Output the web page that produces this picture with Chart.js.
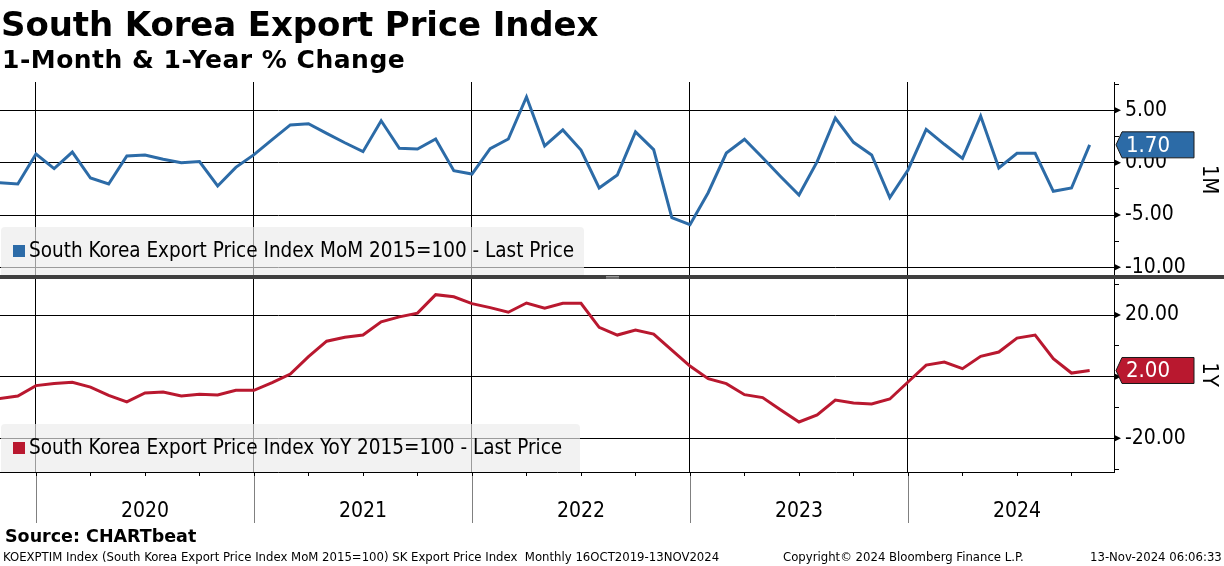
<!DOCTYPE html>
<html>
<head>
<meta charset="utf-8">
<script src="https://cdn.jsdelivr.net/npm/chart.js@4.4.1/dist/chart.umd.min.js"></script>
<style>
body { margin: 0; background: #fff; }
#wrap { position: relative; width: 1224px; height: 566px; overflow: hidden; color: #000;
	font-family: 'DejaVu Sans Condensed', 'DejaVu Sans', sans-serif; }
#chart { position: absolute; left: 0; top: 0; }
.txt { position: absolute; white-space: nowrap; line-height: 1; }
#titulo { left: 1px; top: 7px; font-size: 34px; font-weight: bold; font-family: 'DejaVu Sans', sans-serif; letter-spacing: -0.1px; }
#subtitulo { left: 2px; top: 47px; font-size: 25px; font-weight: bold; font-family: 'DejaVu Sans', sans-serif; letter-spacing: 0.5px; }
#fuente { left: 5px; top: 528px; font-size: 17.5px; font-weight: bold; font-family: 'DejaVu Sans', sans-serif; }
.pie { top: 550px; font-size: 13px; }
</style>
</head>
<body>
<div id="wrap">
	<canvas id="chart" width="1224" height="566"></canvas>
	<div class="txt" id="titulo">South Korea Export Price Index</div>
	<div class="txt" id="subtitulo">1-Month &amp; 1-Year % Change</div>
	<div class="txt" id="fuente">Source: CHARTbeat</div>
	<div class="txt pie" style="left:3px">KOEXPTIM Index (South Korea Export Price Index MoM 2015=100) SK Export Price Index&nbsp; Monthly 16OCT2019-13NOV2024</div>
	<div class="txt pie" style="left:783px">Copyright© 2024 Bloomberg Finance L.P.</div>
	<div class="txt pie" style="left:1090px">13-Nov-2024 06:06:33</div>
</div>
<script>
var months = ['2019-10', '2019-11', '2019-12',
	'2020-01', '2020-02', '2020-03', '2020-04', '2020-05', '2020-06', '2020-07', '2020-08', '2020-09', '2020-10', '2020-11', '2020-12',
	'2021-01', '2021-02', '2021-03', '2021-04', '2021-05', '2021-06', '2021-07', '2021-08', '2021-09', '2021-10', '2021-11', '2021-12',
	'2022-01', '2022-02', '2022-03', '2022-04', '2022-05', '2022-06', '2022-07', '2022-08', '2022-09', '2022-10', '2022-11', '2022-12',
	'2023-01', '2023-02', '2023-03', '2023-04', '2023-05', '2023-06', '2023-07', '2023-08', '2023-09', '2023-10', '2023-11', '2023-12',
	'2024-01', '2024-02', '2024-03', '2024-04', '2024-05', '2024-06', '2024-07', '2024-08', '2024-09', '2024-10'];

var mom = [-1.91, -2.04, 0.82,
	-0.57, 1.01, -1.47, -2.04, 0.63, 0.73, 0.32, 0.0, 0.1, -2.23, -0.45, 0.76,
	2.2, 3.6, 3.72, 2.8, 1.9, 1.05, 4.0, 1.37, 1.3, 2.26, -0.77, -1.09,
	1.33, 2.26, 6.27, 1.59, 3.12, 1.2, -2.42, -1.18, 2.93, 1.24, -5.26, -5.92,
	-2.87, 0.92, 2.23, 0.47, -1.34, -3.09, 0.1, 4.26, 1.94, 0.73, -3.34, -0.7,
	3.18, 1.75, 0.41, 4.45, -0.51, 0.89, 0.89, -2.74, -2.42, 1.70];

var yoy = [-7.1, -6.3, -2.9,
	-2.2, -1.85, -3.37, -6.06, -8.2, -5.3, -4.98, -6.3, -5.74, -5.95, -4.44, -4.44,
	-1.95, 0.86, 6.5, 11.5, 12.8, 13.5, 17.8, 19.4, 20.6, 26.6, 25.9, 23.7,
	22.4, 20.9, 23.9, 22.2, 23.8, 23.8, 16.0, 13.5, 15.1, 13.8, 8.6, 3.45,
	-0.65, -2.27, -5.84, -6.8, -10.8, -14.7, -12.4, -7.6, -8.55, -8.87, -7.25, -1.74,
	3.77, 4.75, 2.6, 6.58, 8.0, 12.5, 13.5, 5.83, 1.17, 2.0];

var years = [2020, 2021, 2022, 2023, 2024];
var momTicks = [-10, -7.5, -5, -2.5, 0, 2.5, 5, 7.5];
var yoyTicks = [-30, -20, -10, 0, 10, 20, 30];
var momLabel = 'South Korea Export Price Index MoM 2015=100 - Last Price';
var yoyLabel = 'South Korea Export Price Index YoY 2015=100 - Last Price';
var momAxis = '1M', yoyAxis = '1Y';

var azul = '#2c6ba7', rojo = '#b9182f';
var fuente = "'DejaVu Sans Condensed', 'DejaVu Sans', sans-serif";

// fin de mes -> año decimal
var aX = function (m) {
	var p = m.split('-');
	return Number(p[0]) + Number(p[1]) / 12;
};

var puntos = function (vals) {
	return vals.map(function (v, i) { return { x: aX(months[i]), y: v }; });
};

var cajaLeyenda = function (ctx, x, y, w, h, color, texto) {
	ctx.save();
	ctx.fillStyle = 'rgba(236,236,236,0.66)';
	ctx.beginPath();
	ctx.roundRect(x, y, w, h, [4, 4, 0, 0]);
	ctx.fill();
	ctx.fillStyle = color;
	ctx.fillRect(x + 12, y + 18, 12, 12);
	ctx.fillStyle = '#000';
	ctx.font = '20.5px ' + fuente;
	ctx.textBaseline = 'middle';
	ctx.fillText(texto, x + 28, y + 25);
	ctx.restore();
};

var etiqueta = function (ctx, x, y, texto, color) {
	ctx.save();
	ctx.fillStyle = color;
	ctx.strokeStyle = '#1a1a1a';
	ctx.lineWidth = 1;
	ctx.beginPath();
	ctx.moveTo(x + 1, y);
	ctx.lineTo(x + 7, y - 13);
	ctx.lineTo(x + 79, y - 13);
	ctx.lineTo(x + 79, y + 13);
	ctx.lineTo(x + 7, y + 13);
	ctx.closePath();
	ctx.fill();
	ctx.stroke();
	ctx.fillStyle = '#fff';
	ctx.font = '22px ' + fuente;
	ctx.textBaseline = 'middle';
	ctx.fillText(texto, x + 11, y + 1);
	ctx.restore();
};

var flechas = function (ctx, scale, valores) {
	ctx.fillStyle = '#000';
	valores.forEach(function (v) {
		var y = scale.getPixelForValue(v);
		ctx.beginPath();
		ctx.moveTo(scale.left, y - 3.5);
		ctx.lineTo(scale.left + 7, y);
		ctx.lineTo(scale.left, y + 3.5);
		ctx.closePath();
		ctx.fill();
	});
};

var extras = {
	id: 'extras',
	afterDatasetsDraw: function (chart) {
		var ctx = chart.ctx;
		var a = chart.chartArea;
		var yT = chart.scales.yTop;
		cajaLeyenda(ctx, 1, 227, 583, yT.bottom - 227, azul, momLabel);
		cajaLeyenda(ctx, 1, 424, 579, a.bottom - 424, rojo, yoyLabel);
	},
	afterDraw: function (chart) {
		var ctx = chart.ctx;
		var a = chart.chartArea;
		var xs = chart.scales.x, yT = chart.scales.yTop, yB = chart.scales.yBot;
		ctx.save();

		// lineas de año bajo el eje y trimestres
		ctx.strokeStyle = '#808080';
		ctx.lineWidth = 1;
		years.forEach(function (yr) {
			var px = Math.round(xs.getPixelForValue(yr)) + 0.5;
			ctx.beginPath();
			ctx.moveTo(px, a.bottom);
			ctx.lineTo(px, 523);
			ctx.stroke();
		});
		ctx.strokeStyle = '#000';
		for (var q = 2019.75; q < xs.max; q += 0.25) {
			if (q < xs.min) continue;
			var qx = Math.round(xs.getPixelForValue(q)) + 0.5;
			ctx.beginPath();
			ctx.moveTo(qx, a.bottom);
			ctx.lineTo(qx, a.bottom + 4);
			ctx.stroke();
		}
		ctx.fillStyle = '#000';
		ctx.font = '21px ' + fuente;
		ctx.textAlign = 'center';
		ctx.textBaseline = 'middle';
		years.forEach(function (yr) {
			ctx.fillText(String(yr), xs.getPixelForValue(yr + 0.5), 512);
		});
		ctx.textAlign = 'left';

		// separador de paneles
		ctx.fillStyle = '#3f3f3f';
		ctx.fillRect(0, yT.bottom - 2, 1224, 4);
		ctx.strokeStyle = '#9a9a9a';
		ctx.beginPath();
		ctx.moveTo(606, yT.bottom - 0.5); ctx.lineTo(619, yT.bottom - 0.5);
		ctx.moveTo(606, yT.bottom + 1); ctx.lineTo(619, yT.bottom + 1);
		ctx.stroke();

		flechas(ctx, yT, momTicks.filter(function (v) { return v % 5 === 0; }));
		flechas(ctx, yB, yoyTicks.filter(function (v) { return v % 20 === 0; }));

		etiqueta(ctx, yT.left + 1, yT.getPixelForValue(mom[mom.length - 1]), mom[mom.length - 1].toFixed(2), azul);
		etiqueta(ctx, yB.left + 1, yB.getPixelForValue(yoy[yoy.length - 1]), yoy[yoy.length - 1].toFixed(2), rojo);
		ctx.restore();
	}
};

var ejeY = function (ticks, paso, min, max, titulo) {
	return {
		type: 'linear',
		position: 'right',
		stack: 'paneles',
		min: min,
		max: max,
		afterBuildTicks: function (scale) {
			scale.ticks = ticks.map(function (v) { return { value: v }; });
		},
		afterFit: function (scale) { scale.width = 110; },
		border: { display: true, color: '#000', width: 1 },
		grid: {
			color: function (c) { return c.tick && c.tick.value % paso === 0 ? '#000' : 'rgba(0,0,0,0)'; },
			tickColor: '#000',
			tickLength: 5,
			lineWidth: 1
		},
		ticks: {
			autoSkip: false,
			padding: 6,
			color: '#000',
			font: { family: fuente, size: 21 },
			callback: function (v) { return v % paso === 0 ? v.toFixed(2) : ''; }
		},
		title: {
			display: true,
			text: titulo,
			color: '#000',
			font: { family: fuente, size: 22 },
			padding: { top: 2, bottom: 0 }
		}
	};
};

var ctx = document.getElementById('chart').getContext('2d');
var chart = new Chart(ctx, {
	type: 'line',
	data: {
		datasets: [{
			label: momLabel,
			data: puntos(mom),
			yAxisID: 'yTop',
			borderColor: azul,
			borderWidth: 3,
			pointRadius: 0,
			tension: 0
		}, {
			label: yoyLabel,
			data: puntos(yoy),
			yAxisID: 'yBot',
			borderColor: rojo,
			borderWidth: 3,
			pointRadius: 0,
			tension: 0
		}]
	},
	options: {
		responsive: false,
		animation: false,
		devicePixelRatio: 1,
		layout: { padding: { top: 82, left: 0, right: 0, bottom: 0 } },
		plugins: { legend: { display: false }, tooltip: { enabled: false } },
		scales: {
			x: {
				type: 'linear',
				position: 'bottom',
				min: 2019.8349,
				max: 2024.945,
				afterBuildTicks: function (scale) {
					scale.ticks = years.map(function (v) { return { value: v }; });
				},
				afterFit: function (scale) { scale.height = 94; },
				border: { display: true, color: '#000', width: 1 },
				grid: { color: '#000', lineWidth: 1, drawTicks: false },
				ticks: { display: false }
			},
			yTop: ejeY(momTicks, 5, -10.92, 7.70, momAxis),
			yBot: ejeY(yoyTicks, 20, -30.93, 32.33, yoyAxis)
		}
	},
	plugins: [extras]
});
</script>
</body>
</html>
